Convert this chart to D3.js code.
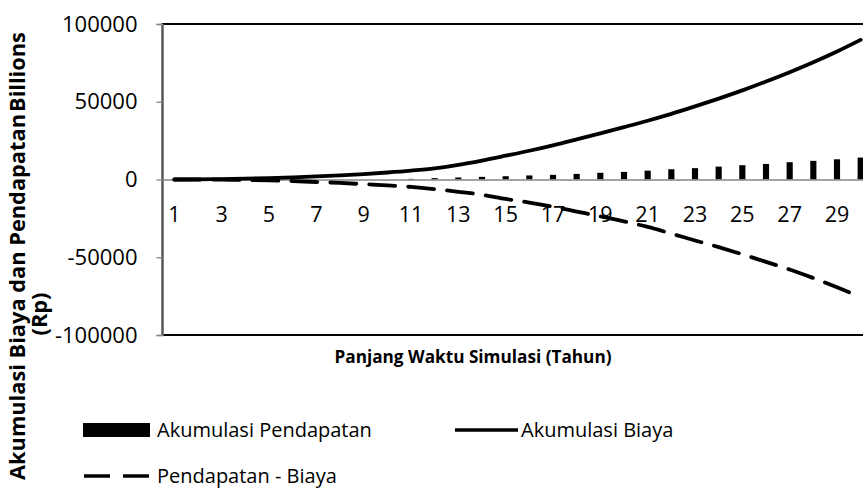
<!DOCTYPE html>
<html>
<head>
<meta charset="utf-8">
<script src="https://cdn.jsdelivr.net/npm/d3@7"></script>
<style>
  html, body { margin: 0; padding: 0; background: #fff; }
  svg { display: block; font-family: "Open Sans", "Noto Sans", sans-serif; }
</style>
</head>
<body>
<svg id="chart" width="863" height="493"></svg>
<script>
// ---- data ----
const years = d3.range(1, 31);
const akumulasiPendapatan = [0, 0, 0, 0, 0, 0, 0, 0, 0, 0,
  400, 900, 1300, 1700, 2100, 2600, 3000, 3600, 4300, 4900,
  5700, 6600, 7300, 8300, 9200, 10000, 11100, 12000, 13000, 14100];
const akumulasiBiaya = [0, 100, 300, 500, 900, 1400, 2000, 2700, 3500, 4500,
  5700, 7200, 9400, 12200, 15300, 18500, 22000, 25800, 29700, 33700,
  37800, 42200, 47000, 52000, 57300, 63000, 69000, 75400, 82300, 89800];
const pendapatanMinusBiaya = [0, 0, -100, -300, -600, -1000, -1600, -2200, -3000, -3800,
  -4800, -6200, -7900, -9800, -12500, -14800, -17500, -20600, -23700, -26900,
  -30500, -34800, -39200, -43500, -48100, -53000, -57900, -63400, -69300, -75700];
const yTicks = [-100000, -50000, 0, 50000, 100000];
const xTickLabels = [1, 3, 5, 7, 9, 11, 13, 15, 17, 19, 21, 23, 25, 27, 29];

// ---- layout ----
const L = 162.5, R = 872.5, T = 24, B = 335;
const svg = d3.select("#chart");

const x = d3.scaleBand().domain(years).range([L, R]).padding(0);
const y = d3.scaleLinear().domain([-100000, 100000]).range([B, T]);
const cx = d => x(d) + x.bandwidth() / 2;

// plot area border
svg.append("rect")
  .attr("x", L).attr("y", T).attr("width", R - L).attr("height", B - T)
  .attr("fill", "none").attr("stroke", "#000").attr("stroke-width", 2);

// bars
const barW = x.bandwidth() * 0.26;
svg.append("g").selectAll("rect")
  .data(years.map((yr, i) => ({ yr, v: akumulasiPendapatan[i] })))
  .join("rect")
  .attr("x", d => cx(d.yr) - barW / 2)
  .attr("y", d => y(Math.max(0, d.v)))
  .attr("width", barW)
  .attr("height", d => Math.abs(y(d.v) - y(0)))
  .attr("fill", "#000");

// x axis at zero
const xAxis = svg.append("g")
  .attr("transform", `translate(0,${y(0)})`)
  .call(d3.axisBottom(x).tickValues(xTickLabels).tickSize(0).tickPadding(27));
xAxis.select(".domain").attr("stroke", "#868686").attr("stroke-width", 1.3);
xAxis.selectAll("text").attr("font-size", 21.5).attr("fill", "#000")
  .attr("font-family", "'Open Sans', sans-serif");

// y axis
const yAxis = svg.append("g")
  .attr("transform", `translate(${L},0)`)
  .call(d3.axisLeft(y).tickValues(yTicks).tickSize(6).tickPadding(19).tickFormat(d => String(d)));
yAxis.select(".domain").attr("stroke", "#868686").attr("stroke-width", 1.3);
yAxis.selectAll(".tick line").attr("stroke", "#868686").attr("stroke-width", 1.3);
yAxis.selectAll("text").attr("font-size", 22).attr("fill", "#000")
  .attr("font-family", "'Open Sans', sans-serif");

// lines
const line = d3.line().x((d, i) => cx(years[i])).y(d => y(d)).curve(d3.curveMonotoneX);
svg.append("path").datum(akumulasiBiaya)
  .attr("d", line).attr("fill", "none").attr("stroke", "#000")
  .attr("stroke-width", 3.8).attr("stroke-linecap", "round");
svg.append("path").datum(pendapatanMinusBiaya)
  .attr("d", line).attr("fill", "none").attr("stroke", "#000")
  .attr("stroke-width", 3.8).attr("stroke-dasharray", "26,13").attr("stroke-linecap", "round");

// axis titles
svg.append("text")
  .attr("x", 473).attr("y", 363)
  .attr("text-anchor", "middle").attr("font-weight", "bold").attr("font-size", 17.2)
  .text("Panjang Waktu Simulasi (Tahun)");

svg.append("text")
  .attr("transform", "translate(25,480) rotate(-90)")
  .attr("text-anchor", "start").attr("font-weight", "bold").attr("font-size", 21.8)
  .text("Akumulasi Biaya dan Pendapatan");
svg.append("text")
  .attr("transform", "translate(25,112) rotate(-90)")
  .attr("text-anchor", "start").attr("font-weight", "bold").attr("font-size", 21.8)
  .text("Billions");
svg.append("text")
  .attr("transform", "translate(47,314) rotate(-90)")
  .attr("text-anchor", "middle").attr("font-weight", "bold").attr("font-size", 21.8)
  .text("(Rp)");

// legend
const lg = svg.append("g").attr("font-size", 20);
lg.append("rect").attr("x", 83).attr("y", 423).attr("width", 67).attr("height", 14).attr("fill", "#000");
lg.append("text").attr("x", 157).attr("y", 437).text("Akumulasi Pendapatan");
lg.append("line").attr("x1", 455).attr("x2", 518).attr("y1", 430).attr("y2", 430)
  .attr("stroke", "#000").attr("stroke-width", 3.5);
lg.append("text").attr("x", 521).attr("y", 437).text("Akumulasi Biaya");
lg.append("line").attr("x1", 84).attr("x2", 151).attr("y1", 476).attr("y2", 476)
  .attr("stroke", "#000").attr("stroke-width", 3.5).attr("stroke-dasharray", "26,13");
lg.append("text").attr("x", 157).attr("y", 483).text("Pendapatan - Biaya");
</script>
</body>
</html>
